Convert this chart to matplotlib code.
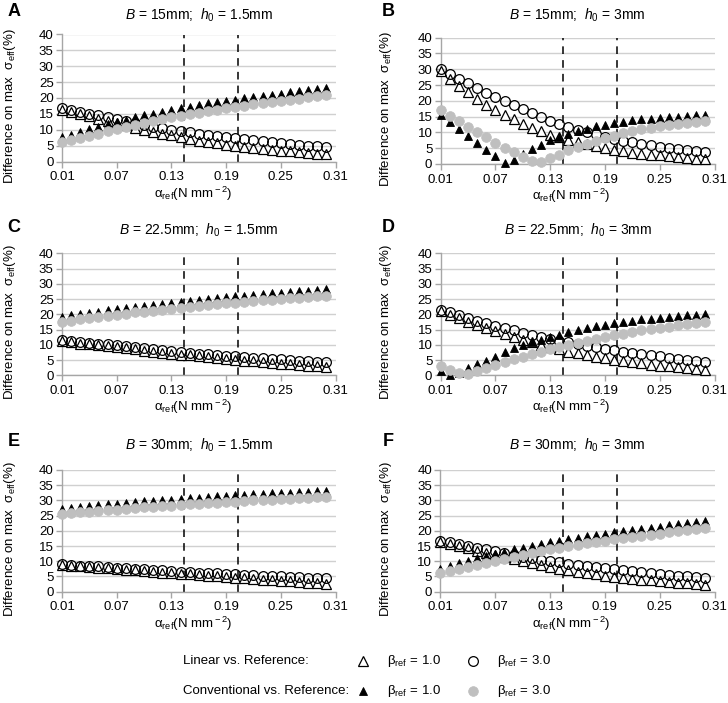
import matplotlib
matplotlib.use("Agg")
import matplotlib.pyplot as plt
from matplotlib.lines import Line2D

plt.rcParams['font.family'] = ['Liberation Sans', 'DejaVu Sans']
plt.rcParams['mathtext.fontset'] = 'custom'
plt.rcParams['mathtext.rm'] = 'Liberation Sans'
plt.rcParams['mathtext.it'] = 'Liberation Sans:italic'
plt.rcParams['mathtext.bf'] = 'Liberation Sans:bold'

# ---------------- data ----------------
alpha = [0.01, 0.02, 0.03, 0.04, 0.05, 0.06, 0.07, 0.08, 0.09, 0.10,
         0.11, 0.12, 0.13, 0.14, 0.15, 0.16, 0.17, 0.18, 0.19, 0.20,
         0.21, 0.22, 0.23, 0.24, 0.25, 0.26, 0.27, 0.28, 0.29, 0.30]
x_ticks = [0.01, 0.07, 0.13, 0.19, 0.25, 0.31]
x_tick_labels = ["0.01", "0.07", "0.13", "0.19", "0.25", "0.31"]
y_ticks = [0, 5, 10, 15, 20, 25, 30, 35, 40]
dash_lines = [0.144, 0.2035]

panel_letters = ["A", "B", "C", "D", "E", "F"]
panel_titles = ["$B$ = 15mm;  $h_0$ = 1.5mm", "$B$ = 15mm;  $h_0$ = 3mm",
                "$B$ = 22.5mm;  $h_0$ = 1.5mm", "$B$ = 22.5mm;  $h_0$ = 3mm",
                "$B$ = 30mm;  $h_0$ = 1.5mm", "$B$ = 30mm;  $h_0$ = 3mm"]

# Panel A
A_lin1 = [16.3, 15.6, 14.9, 14.2, 13.5, 12.8, 12.1, 11.4, 10.7, 10.0, 9.4, 8.8, 8.2, 7.6, 7.1,
          6.6, 6.1, 5.7, 5.3, 4.9, 4.6, 4.3, 4.0, 3.7, 3.4, 3.2, 2.9, 2.7, 2.5, 2.3]
A_lin3 = [16.8, 16.3, 15.7, 15.1, 14.5, 13.9, 13.3, 12.7, 12.1, 11.5, 11.0, 10.5, 10.0, 9.6, 9.2,
          8.8, 8.4, 8.0, 7.7, 7.4, 7.1, 6.8, 6.5, 6.2, 5.9, 5.6, 5.3, 5.0, 4.8, 4.6]
A_con1 = [7.6, 8.5, 9.4, 10.2, 11.0, 11.8, 12.5, 13.2, 13.9, 14.5, 15.1, 15.7, 16.3, 16.8, 17.3,
          17.8, 18.3, 18.7, 19.1, 19.5, 19.9, 20.3, 20.7, 21.0, 21.4, 21.8, 22.2, 22.5, 22.8, 23.2]
A_con3 = [6.0, 6.7, 7.4, 8.1, 8.8, 9.5, 10.2, 10.9, 11.5, 12.1, 12.7, 13.3, 13.9, 14.4, 14.9,
          15.4, 15.9, 16.3, 16.8, 17.2, 17.6, 18.0, 18.4, 18.7, 19.1, 19.5, 19.8, 20.2, 20.5, 20.8]

# Panel B
B_lin1 = [29.3, 27.0, 24.8, 22.7, 20.6, 18.7, 17.0, 15.6, 14.2, 12.8, 11.5, 10.3, 9.3, 8.4, 7.6,
          6.9, 6.2, 5.6, 5.0, 4.5, 4.0, 3.6, 3.3, 3.0, 2.7, 2.4, 2.1, 1.9, 1.7, 1.5]
B_lin3 = [30.0, 28.5, 27.0, 25.5, 24.0, 22.6, 21.2, 19.9, 18.6, 17.3, 16.0, 14.8, 13.7, 12.7, 11.8,
          10.9, 10.1, 9.4, 8.7, 8.0, 7.4, 6.9, 6.4, 5.9, 5.5, 5.1, 4.7, 4.3, 4.0, 3.7]
B_con1 = [15.6, 13.4, 11.2, 9.0, 6.7, 4.5, 2.4, 0.3, 1.4, 3.2, 4.7, 6.1, 7.5, 8.6, 9.6,
          10.5, 11.2, 11.9, 12.5, 13.0, 13.4, 13.8, 14.1, 14.4, 14.6, 14.8, 15.0, 15.2, 15.4, 15.6]
B_con3 = [17.0, 15.3, 13.5, 11.7, 10.0, 8.4, 6.8, 5.2, 3.7, 2.3, 0.9, 0.6, 1.8, 3.0, 4.3,
          5.4, 6.4, 7.3, 8.2, 9.0, 9.7, 10.4, 11.0, 11.5, 12.0, 12.4, 12.8, 13.1, 13.4, 13.7]

# Panel C
C_lin1 = [11.2, 10.8, 10.4, 10.1, 9.8, 9.5, 9.2, 8.8, 8.5, 8.1, 7.8, 7.4, 7.1, 6.8, 6.5,
          6.2, 5.9, 5.6, 5.3, 5.1, 4.8, 4.6, 4.3, 4.1, 3.8, 3.6, 3.4, 3.2, 2.9, 2.7]
C_lin3 = [11.6, 11.3, 11.0, 10.7, 10.4, 10.1, 9.8, 9.5, 9.2, 8.9, 8.6, 8.3, 8.0, 7.7, 7.4,
          7.1, 6.9, 6.6, 6.4, 6.2, 6.0, 5.8, 5.6, 5.4, 5.2, 5.0, 4.8, 4.6, 4.4, 4.3]
C_con1 = [19.2, 19.7, 20.1, 20.5, 20.9, 21.3, 21.7, 22.1, 22.4, 22.8, 23.1, 23.5, 23.8, 24.1, 24.4,
          24.7, 25.0, 25.3, 25.6, 25.9, 26.1, 26.4, 26.6, 26.9, 27.1, 27.3, 27.5, 27.8, 28.0, 28.2]
C_con3 = [17.5, 17.9, 18.3, 18.7, 19.1, 19.5, 19.9, 20.2, 20.6, 20.9, 21.2, 21.5, 21.8, 22.1, 22.4,
          22.7, 23.0, 23.3, 23.6, 23.8, 24.1, 24.3, 24.6, 24.8, 25.0, 25.3, 25.5, 25.7, 25.9, 26.1]

# Panel D
D_lin1 = [21.0, 19.9, 18.8, 17.6, 16.5, 15.5, 14.5, 13.5, 12.5, 11.6, 10.8, 10.0, 9.2, 8.5, 7.8,
          7.2, 6.6, 6.1, 5.6, 5.1, 4.7, 4.3, 3.9, 3.5, 3.2, 2.9, 2.6, 2.3, 2.0, 1.8]
D_lin3 = [21.5, 20.6, 19.7, 18.8, 17.9, 17.1, 16.3, 15.5, 14.7, 14.0, 13.3, 12.6, 12.0, 11.4, 10.8,
          10.2, 9.7, 9.2, 8.7, 8.2, 7.8, 7.4, 7.0, 6.6, 6.2, 5.8, 5.4, 5.0, 4.7, 4.3]
D_con1 = [1.5, 0.0, 0.9, 2.3, 3.6, 4.8, 6.1, 7.5, 8.8, 9.9, 10.9, 11.7, 12.5, 13.3, 14.1,
          14.8, 15.5, 16.1, 16.6, 17.1, 17.5, 17.9, 18.3, 18.6, 18.9, 19.2, 19.5, 19.7, 19.9, 20.1]
D_con3 = [3.0, 1.8, 0.8, 0.3, 1.3, 2.3, 3.3, 4.3, 5.2, 6.1, 7.0, 7.8, 8.6, 9.3, 10.0,
          10.7, 11.4, 12.0, 12.6, 13.2, 13.7, 14.2, 14.7, 15.1, 15.6, 16.0, 16.4, 16.8, 17.2, 17.6]

# Panel E
E_lin1 = [8.8, 8.6, 8.4, 8.2, 7.9, 7.7, 7.5, 7.2, 7.0, 6.8, 6.5, 6.3, 6.1, 5.9, 5.7,
          5.4, 5.2, 5.0, 4.8, 4.6, 4.4, 4.2, 4.0, 3.8, 3.6, 3.4, 3.2, 3.0, 2.8, 2.6]
E_lin3 = [9.0, 8.8, 8.6, 8.4, 8.3, 8.1, 7.9, 7.7, 7.5, 7.3, 7.1, 7.0, 6.8, 6.6, 6.5,
          6.3, 6.1, 6.0, 5.9, 5.7, 5.6, 5.4, 5.3, 5.1, 5.0, 4.9, 4.8, 4.6, 4.5, 4.4]
E_con1 = [27.2, 27.5, 27.8, 28.1, 28.4, 28.7, 28.9, 29.2, 29.4, 29.7, 29.9, 30.1, 30.3, 30.5, 30.7,
          30.9, 31.1, 31.3, 31.5, 31.7, 31.8, 32.0, 32.2, 32.3, 32.5, 32.6, 32.8, 32.9, 33.1, 33.2]
E_con3 = [25.6, 25.8, 26.1, 26.3, 26.6, 26.8, 27.0, 27.3, 27.5, 27.7, 27.9, 28.1, 28.3, 28.5, 28.7,
          28.9, 29.1, 29.3, 29.5, 29.6, 29.8, 30.0, 30.1, 30.3, 30.4, 30.6, 30.7, 30.9, 31.0, 31.2]

# Panel F
F_lin1 = [16.3, 15.6, 14.9, 14.2, 13.5, 12.8, 12.1, 11.4, 10.7, 10.0, 9.4, 8.8, 8.2, 7.6, 7.1,
          6.6, 6.1, 5.7, 5.3, 4.9, 4.6, 4.3, 4.0, 3.7, 3.4, 3.2, 2.9, 2.7, 2.5, 2.3]
F_lin3 = [16.8, 16.3, 15.7, 15.1, 14.5, 13.9, 13.3, 12.7, 12.1, 11.5, 11.0, 10.5, 10.0, 9.6, 9.2,
          8.8, 8.4, 8.0, 7.7, 7.4, 7.1, 6.8, 6.5, 6.2, 5.9, 5.6, 5.3, 5.0, 4.8, 4.6]
F_con1 = [7.6, 8.5, 9.4, 10.2, 11.0, 11.8, 12.5, 13.2, 13.9, 14.5, 15.1, 15.7, 16.3, 16.8, 17.3,
          17.8, 18.3, 18.7, 19.1, 19.5, 19.9, 20.3, 20.7, 21.0, 21.4, 21.8, 22.2, 22.5, 22.8, 23.2]
F_con3 = [6.0, 6.7, 7.4, 8.1, 8.8, 9.5, 10.2, 10.9, 11.5, 12.1, 12.7, 13.3, 13.9, 14.4, 14.9,
          15.4, 15.9, 16.3, 16.8, 17.2, 17.6, 18.0, 18.4, 18.7, 19.1, 19.5, 19.8, 20.2, 20.5, 20.8]

panels = [(A_lin1, A_lin3, A_con1, A_con3), (B_lin1, B_lin3, B_con1, B_con3),
          (C_lin1, C_lin3, C_con1, C_con3), (D_lin1, D_lin3, D_con1, D_con3),
          (E_lin1, E_lin3, E_con1, E_con3), (F_lin1, F_lin3, F_con1, F_con3)]

legend_rows = ["Linear vs. Reference:", "Conventional vs. Reference:"]
legend_labels = ["β$_{\\rm ref}$ = 1.0", "β$_{\\rm ref}$ = 3.0"]
y_label = "Difference on max  σ$_{\\rm eff}$(%)"
x_label = "α$_{\\rm ref}$(N mm$^{\\rm -2}$)"

# ---------------- layout (pixels) ----------------
W, H = 728, 703
fig = plt.figure(figsize=(W / 100, H / 100), dpi=100)

# left, right, top, bottom in pixels
boxes = [(62, 335.5, 34.5, 161.5), (440.7, 714.5, 37.7, 164),
         (62, 335.5, 253.3, 375.3), (440.7, 714.5, 253.3, 375.3),
         (62, 335.5, 470, 591.7), (440.5, 714.5, 470, 591.7)]
title_y = [15, 15, 230, 230, 445, 445]

GRID = '#d0d0d0'
SPINE = '#a6a6a6'
GREY = '#bfbfbf'
FS = 9.5

MS_TRI = 6.5
MS_CIR = 7.0


def fx(px):
    return px / W


def fy(py):
    return 1 - py / H


for i, (l, r, t, b) in enumerate(boxes):
    ax = fig.add_axes([fx(l), fy(b), (r - l) / W, (b - t) / H])
    lin1, lin3, con1, con3 = panels[i]
    ax.set_xlim(0.01, 0.31)
    ax.set_ylim(0, 40)
    for s in ['top', 'right']:
        ax.spines[s].set_visible(False)
    for s in ['left', 'bottom']:
        ax.spines[s].set_color(SPINE)
        ax.spines[s].set_linewidth(1.0)
    ax.set_yticks(y_ticks)
    ax.set_xticks(x_ticks)
    ax.set_xticklabels(x_tick_labels)
    ax.tick_params(axis='both', colors=SPINE, labelcolor='black', labelsize=FS,
                   length=4, width=1.0)
    ax.tick_params(axis='y', pad=2)
    ax.tick_params(axis='x', pad=3)
    ax.yaxis.grid(True, color=GRID, linewidth=1.0)
    ax.set_axisbelow(True)
    for xv in dash_lines:
        ax.axvline(xv, color='black', linestyle=(0, (5, 4)), linewidth=1.1, zorder=1.5)

    ax.plot(alpha, lin1, linestyle='none', marker='^', ms=MS_TRI, mfc='white', mec='black',
            mew=0.9, zorder=3, clip_on=False)
    ax.plot(alpha, lin3, linestyle='none', marker='o', ms=MS_CIR, mfc='none', mec='black',
            mew=0.9, zorder=3.1, clip_on=False)
    ax.plot(alpha, con1, linestyle='none', marker='^', ms=MS_TRI - 0.3, mfc='black', mec='black',
            mew=0.6, zorder=3.2, clip_on=False)
    ax.plot(alpha, con3, linestyle='none', marker='o', ms=MS_CIR, mfc=GREY, mec=GREY,
            mew=0.5, zorder=3.3, clip_on=False)

    cx = (l + r) / 2
    fig.text(fx(cx), fy(title_y[i]), panel_titles[i], ha='center', va='center', fontsize=10)
    letter_x = 14 if i % 2 == 0 else 388
    fig.text(fx(letter_x), fy(title_y[i] - 3), panel_letters[i], ha='center', va='center',
             fontsize=13, fontweight='bold')
    ylab_x = l - 52 if i % 2 == 0 else l - 55
    fig.text(fx(ylab_x), fy((t + b) / 2 + 8), y_label,
             rotation=90, ha='center', va='center', fontsize=FS)
    fig.text(fx(cx - 6), fy(b + 32), x_label, ha='center', va='center', fontsize=FS)

# ---------------- legend ----------------
lax = fig.add_axes([0, 0, 1, 1], facecolor='none')
lax.set_xlim(0, W)
lax.set_ylim(H, 0)
lax.axis('off')
row_y = [661, 691]
for k, label in enumerate(legend_rows):
    lax.text(183, row_y[k], label, ha='left', va='center', fontsize=FS)
    lax.text(387, row_y[k], legend_labels[0], ha='left', va='center', fontsize=FS)
    lax.text(497, row_y[k], legend_labels[1], ha='left', va='center', fontsize=FS)
lax.add_line(Line2D([363], [row_y[0]], linestyle='none', marker='^', ms=MS_TRI, mfc='white',
                    mec='black', mew=0.9))
lax.add_line(Line2D([473], [row_y[0]], linestyle='none', marker='o', ms=MS_CIR, mfc='none',
                    mec='black', mew=0.9))
lax.add_line(Line2D([363], [row_y[1]], linestyle='none', marker='^', ms=MS_TRI - 0.3, mfc='black',
                    mec='black', mew=0.6))
lax.add_line(Line2D([473], [row_y[1]], linestyle='none', marker='o', ms=MS_CIR, mfc=GREY,
                    mec=GREY, mew=0.5))

fig.savefig("out.png", dpi=100)
